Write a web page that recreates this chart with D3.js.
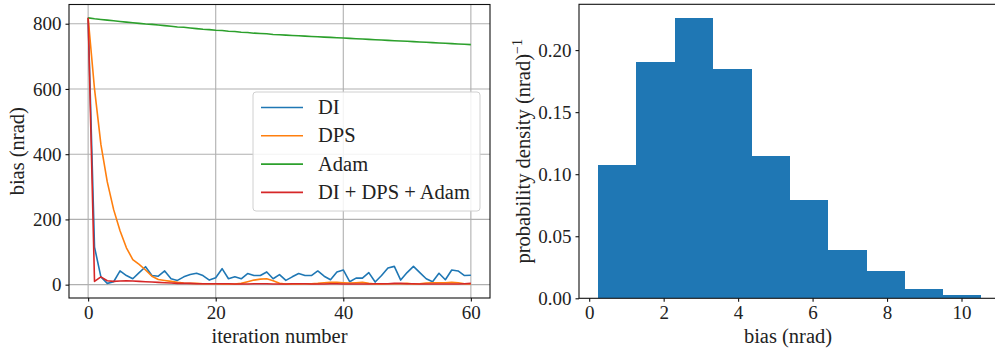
<!DOCTYPE html>
<meta charset="utf-8">
<script src="https://d3js.org/d3.v7.min.js"></script>
<style>
  body { margin: 0; background: #fff; }
  text { font-family: "Liberation Serif", serif; fill: #222; }
</style>
<div id="chart"></div>
<script>

// ---- data ----
var iterations = d3.range(0, 61);

var diBias = [818, 115, 24, 4, 9, 42, 28, 18, 37, 55, 28, 26, 42, 18, 13, 24, 31, 35, 28, 14,
  21, 49, 18, 24, 18, 34, 28, 28, 39, 18, 31, 13, 24, 34, 28, 28, 42, 26, 15, 39,
  45, 9, 20, 20, 37, 8, 28, 51, 56, 14, 37, 56, 37, 18, 9, 35, 15, 45, 42, 28, 29];

var dpsBias = [818, 600, 430, 315, 230, 165, 113, 77, 62, 45, 26, 16, 13, 10, 7, 5, 4, 4, 3, 3,
  3, 2, 2, 2, 4, 9, 14, 17, 18, 12, 4, 2, 2, 2, 3, 3, 4, 6, 7, 7,
  6, 5, 6, 7, 4, 2, 2, 3, 3, 3, 4, 2, 3, 5, 6, 6, 6, 7, 6, 3, 2];

var adamBias = [818, 815, 813, 811, 809, 807, 805, 803, 801, 799, 798, 796, 794, 792, 790, 789, 787, 785, 783, 782,
  780, 779, 777, 776, 774, 773, 771, 770, 769, 767, 766, 765, 764, 763, 762, 761, 760, 759, 758, 757,
  756, 755, 754, 753, 752, 751, 750, 749, 748, 747, 746, 745, 744, 743, 742, 741, 740, 739, 738, 737, 736];

var allBias = [818, 10, 24, 12, 10, 11, 12, 11, 10, 9, 8, 7, 6, 5, 4, 4, 4, 3, 3, 3,
  3, 3, 3, 2, 2, 2, 3, 3, 3, 2, 2, 2, 3, 3, 3, 2, 2, 2, 3, 3,
  2, 2, 2, 2, 2, 3, 3, 3, 4, 4, 3, 3, 2, 2, 2, 2, 2, 2, 2, 3, 4];

var seriesNames = ["DI", "DPS", "Adam", "DI + DPS + Adam"];
var seriesColors = ["#1f77b4", "#ff7f0e", "#2ca02c", "#d62728"];

var binEdges = [0.24, 1.27, 2.30, 3.32, 4.35, 5.38, 6.41, 7.44, 8.46, 9.49, 10.52];
var density = [0.1077, 0.1903, 0.2256, 0.1844, 0.1144, 0.0794, 0.0393, 0.0221, 0.0075, 0.0027];

var leftXTicks = [0, 20, 40, 60];
var leftYTicks = [0, 200, 400, 600, 800];
var rightXTicks = [0, 2, 4, 6, 8, 10];
var rightYTicks = [0, 0.05, 0.10, 0.15, 0.20];

// ---- svg ----
var svg = d3.select("#chart").append("svg")
  .attr("width", 995)
  .attr("height", 353);

var tickFont = "19px";
var labelFont = "20.5px";

function styleAxis(a) {
  a.attr("font-family", null).attr("font-size", null);
  a.select(".domain").remove();
  a.selectAll("line").attr("stroke", "#111").attr("stroke-width", 1.1);
  a.selectAll("text").style("font-size", tickFont).attr("fill", "#222");
}

// ================= left panel =================
var L = {left: 69, right: 490, top: 4.5, bottom: 298};
var x1 = d3.scaleLinear().domain([-3, 63]).range([L.left, L.right]);
var y1 = d3.scaleLinear().domain([-40.9, 858.9]).range([L.bottom, L.top]);

var g1 = svg.append("g");

// grid
g1.append("g").selectAll("line").data(leftXTicks).enter().append("line")
  .attr("x1", function(d) { return x1(d); }).attr("x2", function(d) { return x1(d); })
  .attr("y1", L.top).attr("y2", L.bottom)
  .attr("stroke", "#b0b0b0").attr("stroke-width", 1.1);
g1.append("g").selectAll("line").data(leftYTicks).enter().append("line")
  .attr("y1", function(d) { return y1(d); }).attr("y2", function(d) { return y1(d); })
  .attr("x1", L.left).attr("x2", L.right)
  .attr("stroke", "#b0b0b0").attr("stroke-width", 1.1);

// lines
var lineGen = d3.line()
  .x(function(d, i) { return x1(iterations[i]); })
  .y(function(d) { return y1(d); });

[diBias, dpsBias, adamBias, allBias].forEach(function(s, k) {
  g1.append("path")
    .datum(s)
    .attr("fill", "none")
    .attr("stroke", seriesColors[k])
    .attr("stroke-width", 1.6)
    .attr("stroke-linejoin", "round")
    .attr("d", lineGen);
});

// axes
g1.append("g")
  .attr("transform", "translate(0," + L.bottom + ")")
  .call(d3.axisBottom(x1).tickValues(leftXTicks).tickSize(3.5).tickPadding(4).tickSizeOuter(0))
  .call(styleAxis);
g1.append("g")
  .attr("transform", "translate(" + L.left + ",0)")
  .call(d3.axisLeft(y1).tickValues(leftYTicks).tickSize(3.5).tickPadding(4).tickSizeOuter(0))
  .call(styleAxis);

g1.append("rect")
  .attr("x", L.left).attr("y", L.top)
  .attr("width", L.right - L.left).attr("height", L.bottom - L.top)
  .attr("fill", "none").attr("stroke", "#111").attr("stroke-width", 1.1);

g1.append("text")
  .attr("x", (L.left + L.right) / 2).attr("y", 343)
  .attr("text-anchor", "middle").style("font-size", labelFont)
  .text("iteration number");

g1.append("text")
  .attr("transform", "translate(24," + ((L.top + L.bottom) / 2) + ") rotate(-90)")
  .attr("text-anchor", "middle").style("font-size", labelFont)
  .text("bias (nrad)");

// legend
var lg = g1.append("g").attr("transform", "translate(253,92)");
lg.append("rect")
  .attr("width", 227).attr("height", 119).attr("rx", 3)
  .attr("fill", "white").attr("fill-opacity", 0.85)
  .attr("stroke", "#d0d0d0").attr("stroke-width", 1);
seriesNames.forEach(function(name, k) {
  var yy = 15.5 + k * 28.3;
  lg.append("line")
    .attr("x1", 8).attr("x2", 50).attr("y1", yy).attr("y2", yy)
    .attr("stroke", seriesColors[k]).attr("stroke-width", 1.6);
  lg.append("text")
    .attr("x", 65).attr("y", yy + 6.5)
    .style("font-size", labelFont)
    .text(name);
});

// ================= right panel =================
var R = {left: 579, right: 1000, top: 4.3, bottom: 298.3};
var x2 = d3.scaleLinear().domain([-0.274, 11.034]).range([R.left, R.right]);
var y2 = d3.scaleLinear().domain([0, 0.2369]).range([R.bottom, R.top]);

var g2 = svg.append("g");

g2.append("g").attr("shape-rendering", "crispEdges")
  .selectAll("rect").data(density).enter().append("rect")
  .attr("x", function(d, i) { return x2(binEdges[i]); })
  .attr("width", function(d, i) { return x2(binEdges[i + 1]) - x2(binEdges[i]) + 0.6; })
  .attr("y", function(d) { return y2(d); })
  .attr("height", function(d) { return y2(0) - y2(d); })
  .attr("fill", "#1f77b4");

g2.append("g")
  .attr("transform", "translate(0," + R.bottom + ")")
  .call(d3.axisBottom(x2).tickValues(rightXTicks).tickSize(3.5).tickPadding(4).tickSizeOuter(0))
  .call(styleAxis);
g2.append("g")
  .attr("transform", "translate(" + R.left + ",0)")
  .call(d3.axisLeft(y2).tickValues(rightYTicks).tickFormat(d3.format(".2f")).tickSize(3.5).tickPadding(4).tickSizeOuter(0))
  .call(styleAxis);

g2.append("rect")
  .attr("x", R.left).attr("y", R.top)
  .attr("width", R.right - R.left).attr("height", R.bottom - R.top)
  .attr("fill", "none").attr("stroke", "#111").attr("stroke-width", 1.1);

g2.append("text")
  .attr("x", 788).attr("y", 343)
  .attr("text-anchor", "middle").style("font-size", labelFont)
  .text("bias (nrad)");

var yl = g2.append("text")
  .attr("transform", "translate(530," + ((R.top + R.bottom) / 2) + ") rotate(-90)")
  .attr("text-anchor", "middle").style("font-size", labelFont);
yl.append("tspan").text("probability density (nrad)");
yl.append("tspan").attr("dy", -8).style("font-size", "14px").text("\u22121");

</script>
